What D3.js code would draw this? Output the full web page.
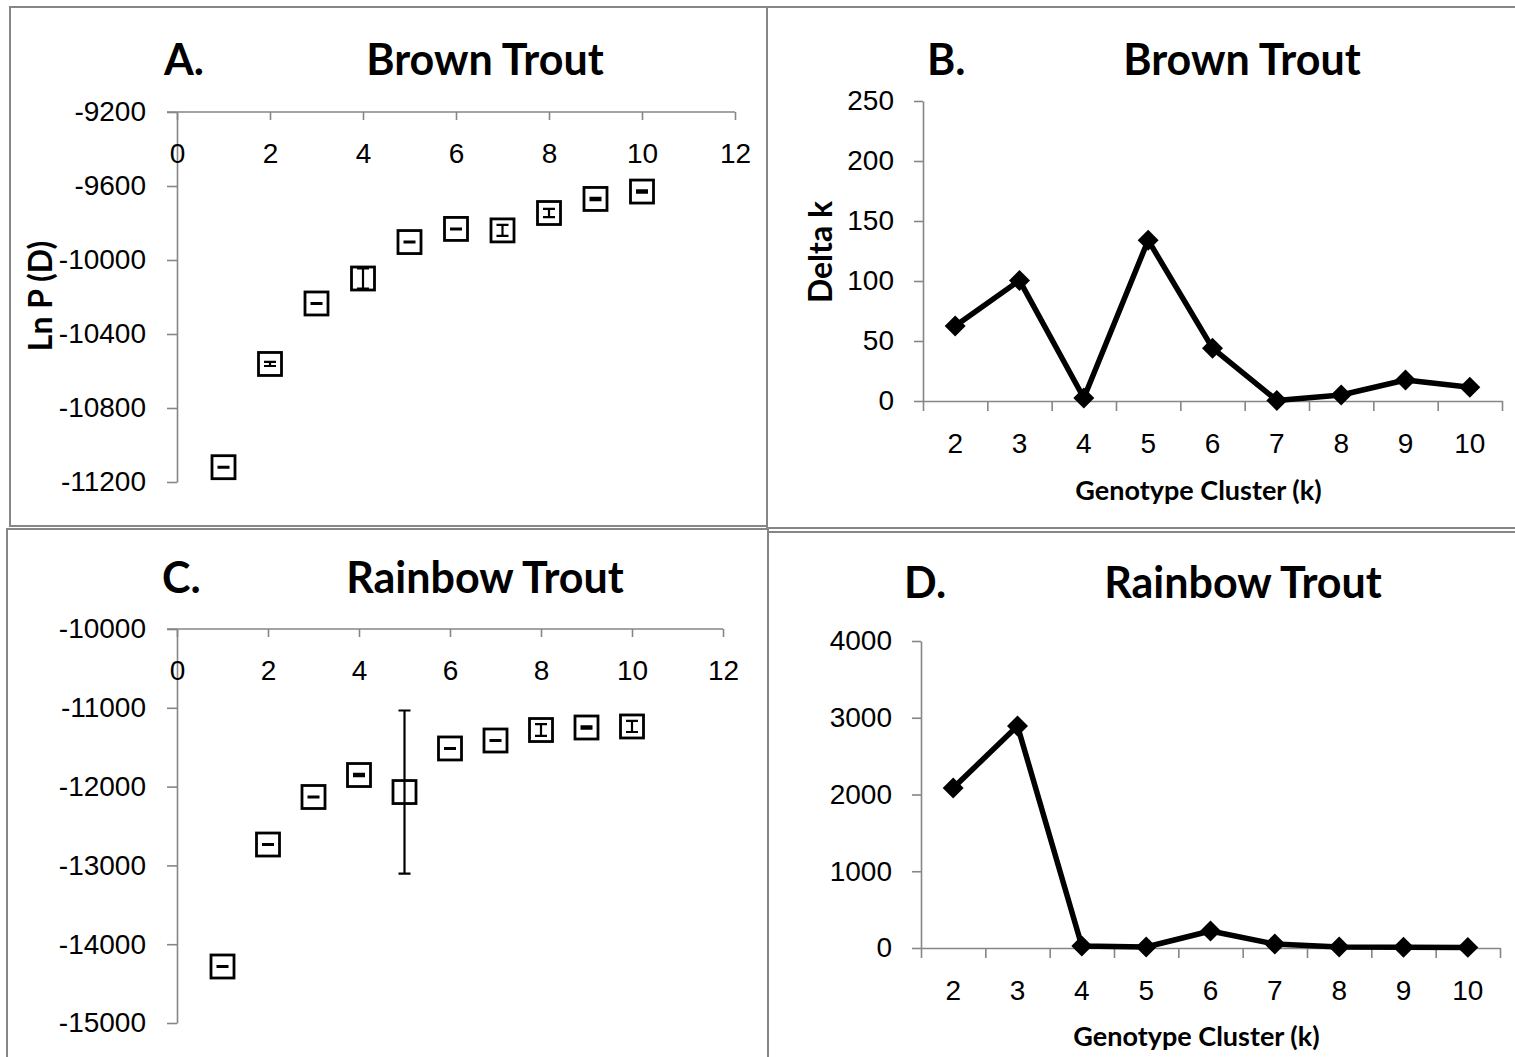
<!DOCTYPE html>
<html>
<head>
<meta charset="utf-8">
<script src="https://cdn.jsdelivr.net/npm/d3@7"></script>
<style>
  html, body { margin: 0; padding: 0; background: #fff; }
  svg { display: block; font-family: Lato, "Open Sans", sans-serif; }
  .axis path, .axis line { stroke: #868686; stroke-width: 1.6; }
  .axis text { fill: #000; font-size: 28px; }
  .title { font-weight: bold; font-size: 43px; }
  .axis-title { font-weight: bold; }
</style>
</head>
<body>
<svg id="fig" width="1515" height="1057"></svg>
<script>
// STRUCTURE runs for K = 1..10: mean Ln P(D) and its standard deviation
const kRuns = [1, 2, 3, 4, 5, 6, 7, 8, 9, 10];
const lnPBrown = [-11120, -10562, -10235, -10100, -9903, -9832, -9840, -9746, -9670, -9630];
const sdBrown = [2, 11, 2, 54, 2, 2, 30, 22, 6, 6];
const lnPRainbow = [-14283, -12735, -12132, -11853, -12069, -11516, -11415, -11282, -11250, -11237];
const sdRainbow = [5, 5, 5, 15, 1035, 5, 5, 75, 15, 70];

// Evanno Delta k for K = 2..10
const clusterK = ["2", "3", "4", "5", "6", "7", "8", "9", "10"];
const deltaBrown = [62.5, 100.5, 2.5, 134, 44, 0.5, 5, 17.5, 11.5];
const deltaRainbow = [2085, 2893, 26, 13, 221, 52, 13, 10, 8];

// tick values
const lnPTicksBrown = [-9200, -9600, -10000, -10400, -10800, -11200];
const lnPTicksRainbow = [-10000, -11000, -12000, -13000, -14000, -15000];
const kTicks = [0, 2, 4, 6, 8, 10, 12];
const deltaTicksBrown = [0, 50, 100, 150, 200, 250];
const deltaTicksRainbow = [0, 1000, 2000, 3000, 4000];

const svg = d3.select("#fig");

// panel frames
const frames = [
  {x: 10, y: 7, w: 757, h: 519},
  {x: 767, y: 7, w: 770, h: 521},
  {x: 7, y: 529, w: 761, h: 560},
  {x: 768, y: 532, w: 770, h: 560}
];
svg.append("g").selectAll("rect").data(frames).join("rect")
  .attr("x", d => d.x).attr("y", d => d.y)
  .attr("width", d => d.w).attr("height", d => d.h)
  .attr("fill", "none").attr("stroke", "#868686").attr("stroke-width", 2);

function panelTitle(letter, lx, name, cx, baseline) {
  svg.append("text").attr("class", "title").attr("x", lx).attr("y", baseline).text(letter);
  svg.append("text").attr("class", "title").attr("x", cx).attr("y", baseline)
    .attr("text-anchor", "middle").text(name);
}

// Ln P(D) scatter with error bars; the K axis sits along the top
function lnPPanel(opt) {
  const g = svg.append("g");
  const x = d3.scaleLinear().domain([0, 12]).range([opt.x0, opt.x1]);
  const y = d3.scaleLinear().domain([opt.yMin, opt.yMax]).range([opt.yBottom, opt.yTop]);

  g.append("g").attr("class", "axis")
    .attr("transform", `translate(${opt.x0},0)`)
    .call(d3.axisLeft(y).tickValues(opt.yTicks).tickSize(10).tickSizeOuter(0)
      .tickPadding(21).tickFormat(d => String(d)));

  const xAxis = g.append("g").attr("class", "axis")
    .attr("transform", `translate(0,${opt.yTop})`)
    .call(d3.axisBottom(x).tickValues(kTicks).tickSize(8).tickSizeOuter(0).tickPadding(23));
  xAxis.select(".domain").attr("d", `M${opt.x0 - 10},0H${opt.x1}`);

  const pts = opt.k.map((k, i) => ({k, v: opt.values[i], e: opt.err[i]}));
  const cap = 6;

  g.append("g").selectAll("rect").data(pts).join("rect")
    .attr("x", d => x(d.k) - 11.5).attr("y", d => y(d.v) - 11.5)
    .attr("width", 23).attr("height", 23)
    .attr("fill", "#fff").attr("stroke", "#000").attr("stroke-width", 2.8);

  const eb = g.append("g").attr("stroke", "#000").attr("stroke-width", 2.2).attr("fill", "none");
  eb.selectAll("path").data(pts).join("path")
    .attr("d", d => {
      const cx = x(d.k), t = y(d.v + d.e), b = y(d.v - d.e);
      return `M${cx - cap},${t}H${cx + cap}M${cx},${t}V${b}M${cx - cap},${b}H${cx + cap}`;
    });
  return g;
}

// Delta k line chart on a category axis
function deltaPanel(opt) {
  const g = svg.append("g");
  const x = d3.scaleBand().domain(clusterK).range([opt.x0, opt.x1]);
  const edge = d3.scaleLinear().domain([0, clusterK.length]).range([opt.x0, opt.x1]);
  const y = d3.scaleLinear().domain([0, opt.yMax]).range([opt.yBottom, opt.yTop]);

  g.append("g").attr("class", "axis")
    .attr("transform", `translate(${opt.x0},0)`)
    .call(d3.axisLeft(y).tickValues(opt.yTicks).tickSize(9).tickSizeOuter(0).tickPadding(20)
      .tickFormat(d => String(d)));

  // tick marks between categories
  g.append("g").attr("class", "axis")
    .attr("transform", `translate(0,${opt.yBottom})`)
    .call(d3.axisBottom(edge).tickValues(d3.range(0, clusterK.length + 1)).tickSize(10)
      .tickSizeOuter(0).tickFormat(""));
  // category labels
  const lab = g.append("g").attr("class", "axis")
    .attr("transform", `translate(0,${opt.yBottom})`)
    .call(d3.axisBottom(x).tickSize(0).tickPadding(32));
  lab.select(".domain").remove();

  const cx = d => x(d.k) + x.bandwidth() / 2;
  const pts = clusterK.map((k, i) => ({k, v: opt.values[i]}));
  g.append("path").datum(pts)
    .attr("fill", "none").attr("stroke", "#000").attr("stroke-width", 5.5)
    .attr("stroke-linejoin", "round")
    .attr("d", d3.line().x(cx).y(d => y(d.v)));
  g.append("g").selectAll("path").data(pts).join("path")
    .attr("d", d3.symbol(d3.symbolSquare, 220))
    .attr("transform", d => `translate(${cx(d)},${y(d.v)}) rotate(45)`)
    .attr("fill", "#000");

  g.append("text").attr("class", "axis-title")
    .attr("x", (opt.x0 + opt.x1) / 2 - 14).attr("y", opt.xTitleY)
    .attr("text-anchor", "middle").style("font-size", "27px")
    .text("Genotype Cluster (k)");
  return g;
}

// A. Brown trout Ln P(D)
panelTitle("A.", 164, "Brown Trout", 485, 75);
lnPPanel({x0: 177, x1: 735, yTop: 112, yBottom: 482, yMin: -11200, yMax: -9200,
  yTicks: lnPTicksBrown, k: kRuns, values: lnPBrown, err: sdBrown});
svg.append("text").attr("class", "axis-title")
  .attr("transform", "translate(52,296) rotate(-90)")
  .attr("text-anchor", "middle").style("font-size", "32px").text("Ln P (D)");

// B. Brown trout Delta k
panelTitle("B.", 927, "Brown Trout", 1242, 75);
deltaPanel({x0: 923, x1: 1502, yTop: 101, yBottom: 401, yMax: 250,
  yTicks: deltaTicksBrown, values: deltaBrown, xTitleY: 500});
svg.append("text").attr("class", "axis-title")
  .attr("transform", "translate(832,252) rotate(-90)")
  .attr("text-anchor", "middle").style("font-size", "32px").text("Delta k");

// C. Rainbow trout Ln P(D)
panelTitle("C.", 162, "Rainbow Trout", 485, 593);
lnPPanel({x0: 177, x1: 723, yTop: 629, yBottom: 1023, yMin: -15000, yMax: -10000,
  yTicks: lnPTicksRainbow, k: kRuns, values: lnPRainbow, err: sdRainbow});

// D. Rainbow trout Delta k
panelTitle("D.", 904, "Rainbow Trout", 1243, 598);
deltaPanel({x0: 921, x1: 1500, yTop: 641, yBottom: 948, yMax: 4000,
  yTicks: deltaTicksRainbow, values: deltaRainbow, xTitleY: 1046});
</script>
</body>
</html>
